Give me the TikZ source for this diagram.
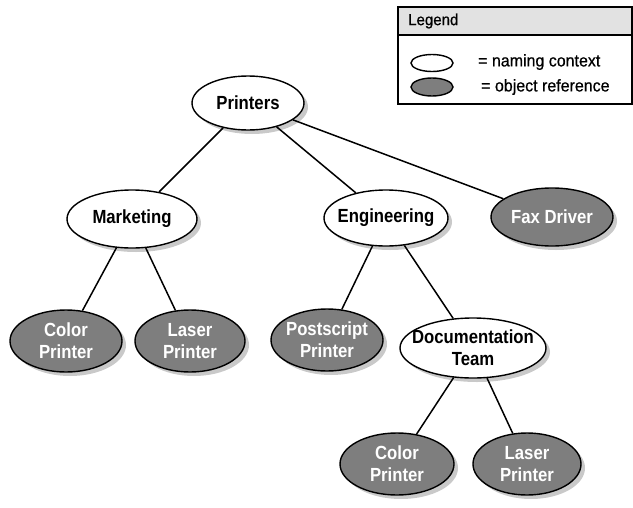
\documentclass[tikz,border=0pt]{standalone}
\usepackage{fontspec}
\setmainfont[FakeStretch=0.88]{Liberation Sans}
\newfontfamily\legendfont[FakeStretch=0.94, FakeBold=0.6]{Liberation Sans}
\usetikzlibrary{shapes.geometric,shadows}
\definecolor{refgray}{HTML}{7E7E7E}
\definecolor{shadowgray}{HTML}{C9C9C9}
\definecolor{headgray}{HTML}{E2E2E2}
\tikzset{
  oval/.style={ellipse, draw=black, line width=1.4pt, inner sep=0pt,
    drop shadow={shadow xshift=4pt, shadow yshift=-4pt, fill=shadowgray, opacity=1}},
  ovaltext/.style={align=center, inner sep=0pt,
    font=\bfseries\fontsize{19}{22}\selectfont},
  ctx/.style={oval, fill=white, label={[ovaltext, text=black]center:#1}},
  objref/.style={oval, fill=refgray, label={[ovaltext, text=white]center:#1}},
  link/.style={line width=1.5pt},
  legendtext/.style={anchor=west, inner sep=0pt, font=\legendfont\fontsize{17}{20}\selectfont}
}
\begin{document}
\begin{tikzpicture}[x=1pt, y=-1pt]
  \useasboundingbox (0,0) rectangle (633,507);

  % tree nodes
  \node[ctx=Printers, minimum width=112, minimum height=54] (printers) at (248,103) {};
  \node[ctx=Marketing, minimum width=130, minimum height=58] (marketing) at (132,219) {};
  \node[ctx=Engineering, minimum width=124, minimum height=56] (engineering) at (386,218) {};
  \node[objref=Fax Driver, minimum width=122, minimum height=58] (fax) at (552,217) {};
  \node[objref={Color\\Printer}, minimum width=112, minimum height=62] (color1) at (66,341) {};
  \node[objref={Laser\\Printer}, minimum width=110, minimum height=62] (laser1) at (190,341) {};
  \node[objref={Postscript\\Printer}, minimum width=112, minimum height=62] (post) at (327,340) {};
  \node[ctx={Documentation\\Team}, minimum width=146, minimum height=60] (doc) at (473,348) {};
  \node[objref={Color\\Printer}, minimum width=114, minimum height=62] (color2) at (397,464) {};
  \node[objref={Laser\\Printer}, minimum width=108, minimum height=62] (laser2) at (527,464) {};

  % connectors
  \draw[link] (printers) -- (marketing);
  \draw[link] (printers) -- (engineering);
  \draw[link] (printers) -- (fax);
  \draw[link] (marketing) -- (color1);
  \draw[link] (marketing) -- (laser1);
  \draw[link] (engineering) -- (post);
  \draw[link] (engineering) -- (doc);
  \draw[link] (doc) -- (color2);
  \draw[link] (doc) -- (laser2);

  % legend
  \fill[headgray] (398,7) rectangle (632,35);
  \draw[line width=1.4pt] (398,7) rectangle (632,104);
  \draw[line width=1.4pt] (398,35) -- (632,35);
  \node[anchor=west, inner sep=0pt, font=\legendfont\fontsize{16}{18}\selectfont] (legendtitle) at (408,21) {Legend};
  \node[ellipse, draw=black, line width=1.4pt, fill=white, minimum width=42, minimum height=17, inner sep=0pt] (legctx) at (432,63) {};
  \node[ellipse, draw=black, line width=1.4pt, fill=refgray, minimum width=42, minimum height=18, inner sep=0pt] (legref) at (432,87) {};
  \node[legendtext] (legctxtext) at (478,62) {= naming context};
  \node[legendtext] (legreftext) at (481,87) {= object reference};
\end{tikzpicture}
\end{document}
